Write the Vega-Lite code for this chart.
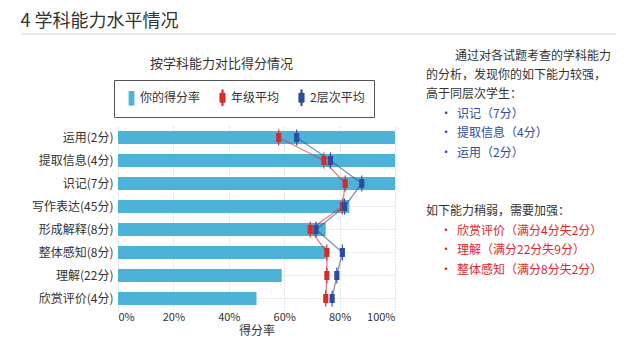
{
  "$schema": "https://vega.github.io/schema/vega-lite/v6.json",
  "background": "white",
  "padding": {"left": 20, "top": 13, "right": 0, "bottom": 0},
  "config": {
    "view": {"stroke": null},
    "font": "Noto Sans CJK SC",
    "title": {"font": "Noto Sans CJK SC", "fontWeight": "normal", "color": "#333333"},
    "axis": {"labelFont": "Noto Sans CJK SC", "titleFont": "Noto Sans CJK SC"},
    "legend": {"labelFont": "Noto Sans CJK SC"}
  },
  "datasets": {
    "scores": [
      {"cat": "运用(2分)", "i": 1, "你的得分率": 1.0, "年级平均": 0.58, "2层次平均": 0.645},
      {"cat": "提取信息(4分)", "i": 2, "你的得分率": 1.0, "年级平均": 0.743, "2层次平均": 0.767},
      {"cat": "识记(7分)", "i": 3, "你的得分率": 1.0, "年级平均": 0.82, "2层次平均": 0.88},
      {"cat": "写作表达(45分)", "i": 4, "你的得分率": 0.835, "年级平均": 0.81, "2层次平均": 0.818},
      {"cat": "形成解释(8分)", "i": 5, "你的得分率": 0.75, "年级平均": 0.694, "2层次平均": 0.715},
      {"cat": "整体感知(8分)", "i": 6, "你的得分率": 0.75, "年级平均": 0.754, "2层次平均": 0.81},
      {"cat": "理解(22分)", "i": 7, "你的得分率": 0.591, "年级平均": 0.754, "2层次平均": 0.79},
      {"cat": "欣赏评价(4分)", "i": 8, "你的得分率": 0.5, "年级平均": 0.75, "2层次平均": 0.773}
    ],
    "notes": [
      {"line": 0, "kind": "lead", "text": "通过对各试题考查的学科能力"},
      {"line": 1, "kind": "text", "text": "的分析，发现你的如下能力较强，"},
      {"line": 2, "kind": "text", "text": "高于同层次学生："},
      {"line": 3, "kind": "strong", "text": "识记（7分）"},
      {"line": 4, "kind": "strong", "text": "提取信息（4分）"},
      {"line": 5, "kind": "strong", "text": "运用（2分）"},
      {"line": 8, "kind": "text", "text": "如下能力稍弱，需要加强："},
      {"line": 9, "kind": "weak", "text": "欣赏评价（满分4分失2分）"},
      {"line": 10, "kind": "weak", "text": "理解（满分22分失9分）"},
      {"line": 11, "kind": "weak", "text": "整体感知（满分8分失2分）"}
    ]
  },
  "spacing": 14,
  "vconcat": [
    {
      "width": 595,
      "height": 1,
      "data": {"values": [{"k": 1}]},
      "title": {"text": "4 学科能力水平情况", "anchor": "start", "fontSize": 18, "offset": 2},
      "mark": {"type": "rule", "color": "#d0d0d0", "strokeWidth": 1},
      "encoding": {
        "x": {"datum": 0, "scale": {"domain": [0, 1], "range": [-97, 498]}, "axis": null},
        "x2": {"datum": 1},
        "y": {"datum": 0, "scale": {"domain": [0, 1]}, "axis": null}
      }
    },
    {
      "spacing": 31,
      "resolve": {
        "scale": {"color": "independent", "shape": "independent", "fill": "independent"},
        "legend": {"color": "independent", "shape": "independent", "fill": "independent"}
      },
      "hconcat": [
        {
          "width": 277,
          "height": 184,
          "data": {"name": "scores"},
          "transform": [{"fold": ["你的得分率", "年级平均", "2层次平均"], "as": ["series", "value"]}],
          "title": {"text": "按学科能力对比得分情况", "fontSize": 13, "dx": -35, "offset": 9},
          "encoding": {
            "y": {
              "field": "cat", "type": "nominal",
              "sort": ["运用(2分)", "提取信息(4分)", "识记(7分)", "写作表达(45分)", "形成解释(8分)", "整体感知(8分)", "理解(22分)", "欣赏评价(4分)"],
              "scale": {"paddingInner": 0.43, "paddingOuter": 0.215},
              "axis": {"title": null, "labelFontSize": 12, "labelColor": "#333333", "ticks": false, "domain": false, "grid": true, "bandPosition": 0.5, "gridColor": "#c8c8c8", "gridDash": [1, 2], "labelPadding": 5, "minExtent": 97}
            },
            "x": {
              "field": "value", "type": "quantitative",
              "scale": {"domain": [0, 1], "nice": false},
              "axis": {"format": ".0%", "values": [0, 0.2, 0.4, 0.6, 0.8, 1], "title": "得分率", "titleFontSize": 12, "titleFontWeight": "normal", "titleColor": "#333333", "titlePadding": 3, "labelFontSize": 11, "labelColor": "#333333", "labelPadding": 1, "ticks": false, "domain": false, "grid": true, "gridColor": "#c8c8c8", "gridDash": [1, 2]}
            },
            "color": {
              "field": "series", "type": "nominal",
              "scale": {"domain": ["你的得分率", "年级平均", "2层次平均"], "range": ["#4cb2d8", "#d62b2d", "#2b4c9c"]},
              "legend": {
                "title": null, "orient": "none", "legendX": -4, "legendY": -46, "direction": "horizontal",
                "strokeColor": "#555555", "fillColor": "white", "padding": 9, "symbolSize": 256, "labelFontSize": 12, "labelColor": "#333333",
                "columnPadding": 13, "labelOffset": 0, "symbolOpacity": 1,
                "encode": {"symbols": {"update": {"stroke": [{"test": "datum.value === '你的得分率'", "value": "#333333"}, {"value": "transparent"}], "strokeWidth": {"value": 1}}}}
              }
            }
          },
          "layer": [
            {
              "transform": [{"filter": "datum.series === '你的得分率'"}],
              "mark": {"type": "bar"}
            },
            {
              "transform": [{"filter": "datum.series !== '你的得分率'"}],
              "mark": {"type": "line", "strokeWidth": 1.3, "opacity": 0.6},
              "encoding": {"order": {"field": "i", "type": "quantitative"}}
            },
            {
              "transform": [{"filter": "datum.series !== '你的得分率'"}],
              "mark": {"type": "point", "filled": true, "opacity": 1, "size": 256},
              "encoding": {
                "shape": {
                  "field": "series", "type": "nominal",
                  "scale": {"domain": ["你的得分率", "年级平均", "2层次平均"], "range": ["M-0.3,-0.85H0.3V0.85H-0.3Z", "M-0.07,-1H0.07V-0.55H0.32V0.55H0.07V1H-0.07V0.55H-0.32V-0.55H-0.07Z", "M-0.07,-1H0.07V-0.55H0.32V0.55H0.07V1H-0.07V0.55H-0.32V-0.55H-0.07Z"]},
                  "legend": {
                    "title": null, "orient": "none", "legendX": -4, "legendY": -46, "direction": "horizontal",
                    "strokeColor": "#555555", "fillColor": "white", "padding": 9, "symbolSize": 256, "labelFontSize": 12, "labelColor": "#333333",
                    "columnPadding": 13, "labelOffset": 0, "symbolOpacity": 1,
                    "encode": {"symbols": {"update": {"stroke": [{"test": "datum.value === '你的得分率'", "value": "#333333"}, {"value": "transparent"}], "strokeWidth": {"value": 1}}}}
                  }
                }
              }
            }
          ]
        },
        {
          "width": 200,
          "height": 184,
          "data": {"name": "notes"},
          "encoding": {
            "x": {"datum": 0, "scale": {"domain": [0, 1]}, "axis": null},
            "y": {"field": "line", "type": "quantitative", "scale": {"domain": [0, 11], "range": [-70.5, 143.5], "nice": false, "zero": false}, "axis": null},
            "fill": {"field": "kind", "type": "nominal", "scale": {"domain": ["lead", "text", "strong", "weak"], "range": ["#333333", "#333333", "#2d4ea0", "#e3262b"]}, "legend": null}
          },
          "layer": [
            {
              "transform": [{"filter": "datum.kind === 'text'"}],
              "mark": {"type": "text", "align": "left", "baseline": "middle", "fontSize": 12},
              "encoding": {"text": {"field": "text"}}
            },
            {
              "transform": [{"filter": "datum.kind === 'lead'"}],
              "mark": {"type": "text", "align": "left", "baseline": "middle", "fontSize": 12, "dx": 29},
              "encoding": {"text": {"field": "text"}}
            },
            {
              "transform": [{"filter": "datum.kind === 'strong' || datum.kind === 'weak'"}],
              "mark": {"type": "text", "align": "center", "baseline": "middle", "fontSize": 12, "dx": 20, "text": "•"}
            },
            {
              "transform": [{"filter": "datum.kind === 'strong' || datum.kind === 'weak'"}],
              "mark": {"type": "text", "align": "left", "baseline": "middle", "fontSize": 12, "dx": 31},
              "encoding": {"text": {"field": "text"}}
            }
          ]
        }
      ]
    }
  ]
}
